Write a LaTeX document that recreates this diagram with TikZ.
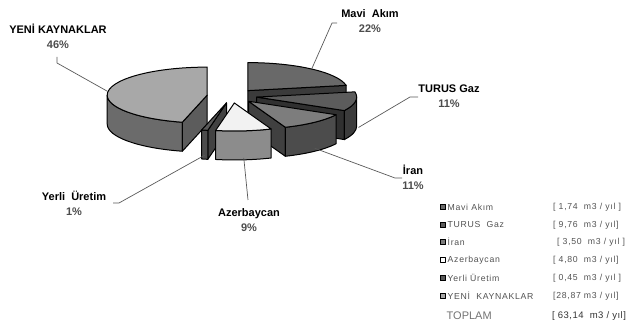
\documentclass[tikz,border=0pt]{standalone}
\usepackage{fontspec}
\setmainfont{Liberation Sans}
\definecolor{maviTop}{gray}{0.41}
\definecolor{maviCut}{gray}{0.23}
\definecolor{yeniTop}{gray}{0.66}
\definecolor{yeniSide}{gray}{0.42}
\definecolor{yeniCut}{gray}{0.36}
\definecolor{turusTop}{gray}{0.36}
\definecolor{turusSide}{gray}{0.23}
\definecolor{turusCut}{gray}{0.19}
\definecolor{iranTop}{gray}{0.49}
\definecolor{iranSide}{gray}{0.30}
\definecolor{iranCut}{gray}{0.25}
\definecolor{azerTop}{gray}{0.95}
\definecolor{azerSide}{gray}{0.55}
\definecolor{yerliTop}{gray}{0.35}
\definecolor{yerliSide}{gray}{0.30}
\definecolor{yerliCut}{gray}{0.26}
\newcommand\topface[3]{\filldraw[face, fill=#3] (0,0) -- (#1:100 and 28) arc[start angle=#1, end angle=#2, x radius=100, y radius=28] -- cycle;}
\newcommand\cutface[2]{\filldraw[face, fill=#2] (0,0) -- (#1:100 and 28) -- ++(0,-29) -- (0,-29) -- cycle;}
\newcommand\outerface[3]{\filldraw[face, fill=#3] (#1:100 and 28) arc[start angle=#1, end angle=#2, x radius=100, y radius=28] -- ++(0,-29) arc[start angle=#2, end angle=#1, x radius=100, y radius=28] -- cycle;}
\begin{document}
\begin{tikzpicture}[x=1pt,y=1pt, line join=round,
  face/.style={draw=black, line width=1pt},
  lbl/.style={font=\fontsize{11}{15}\selectfont\bfseries, align=center, inner sep=0pt},
  leader/.style={draw=black!65, line width=0.7pt},
  leg/.style={font=\fontsize{8.7}{10}\selectfont\addfontfeature{LetterSpace=8}, text=black!68, anchor=west, inner sep=0pt},
  legbox/.style={draw=black, line width=0.8pt, minimum size=5.5pt, inner sep=0pt}
]
\useasboundingbox (0,0) rectangle (637,326);
% Mavi Akim
\begin{scope}[shift={({232+25*cos(50.4)},{230+7*sin(50.4)})}]
  \cutface{10.8}{maviCut}
  \topface{10.8}{90}{maviTop}
  \coordinate (maviP) at (50.4:100 and 28);
\end{scope}
% YENI KAYNAKLAR
\begin{scope}[shift={({232+25*cos(172.8)},{230+7*sin(172.8)})}]
  \outerface{180}{255.6}{yeniSide}
  \cutface{255.6}{yeniCut}
  \topface{90}{255.6}{yeniTop}
  \coordinate (yeniP) at (172.8:100 and 28);
\end{scope}
% TURUS Gaz
\begin{scope}[shift={({232+25*cos(-9)},{230+7*sin(-9)})}]
  \cutface{-28.8}{turusCut}
  \outerface{-28.8}{0}{turusSide}
  \topface{-28.8}{10.8}{turusTop}
  \coordinate (turusP) at ({100*cos(-9)+3},{28*sin(-9)-26});
\end{scope}
% Iran
\begin{scope}[shift={({232+25*cos(-48.6)},{230+7*sin(-48.6)})}]
  \cutface{-68.4}{iranCut}
  \outerface{-68.4}{-28.8}{iranSide}
  \topface{-68.4}{-28.8}{iranTop}
  \coordinate (iranP) at ({100*cos(-48.6)},{28*sin(-48.6)-26});
\end{scope}
% Yerli Uretim
\begin{scope}[shift={({232+25*cos(-102.6)},{230+7*sin(-102.6)})}]
  \cutface{-100.8}{yerliCut}
  \outerface{-104.4}{-100.8}{yerliSide}
  \topface{-104.4}{-100.8}{yerliTop}
  \coordinate (yerliP) at ({100*cos(-102.6)},{28*sin(-102.6)-25});
\end{scope}
% Azerbaycan
\begin{scope}[shift={({232+25*cos(-84.6)},{230+7*sin(-84.6)})}]
  \outerface{-100.8}{-68.4}{azerSide}
  \topface{-100.8}{-68.4}{azerTop}
  \coordinate (azerP) at ({100*cos(-84.6)},{28*sin(-84.6)-27});
\end{scope}
% labels
\node[lbl] (maviL) at (370,304.5) {Mavi\ \ Akım\\\textcolor{black!70}{22\%}};
\node[lbl] (turusL) at (449,229.5) {TURUS\ Gaz\\\textcolor{black!70}{11\%}};
\node[lbl] (iranL) at (413,149) {İran\\\textcolor{black!70}{11\%}};
\node[lbl] (azerL) at (249,106) {Azerbaycan\\\textcolor{black!70}{9\%}};
\node[lbl] (yerliL) at (74,122.5) {Yerli\ \ Üretim\\\textcolor{black!70}{1\%}};
\node[lbl] (yeniL) at (58,289.5) {YENİ KAYNAKLAR\\\textcolor{black!70}{46\%}};
% leader lines
\coordinate (maviK) at (332,303); \coordinate (maviE) at (337,303);
\coordinate (turusK) at (410,229); \coordinate (turusE) at (418,229);
\coordinate (iranK) at (395,148); \coordinate (iranE) at (402,148);
\coordinate (azerE) at (248,126);
\coordinate (yerliK) at (119,123); \coordinate (yerliE) at (113,123);
\coordinate (yeniK) at (57,263); \coordinate (yeniE) at (57,269);
\draw[leader] (maviP) -- (maviK) -- (maviE);
\draw[leader] (turusP) -- (turusK) -- (turusE);
\draw[leader] (iranP) -- (iranK) -- (iranE);
\draw[leader] (azerP) -- (azerE);
\draw[leader] (yerliP) -- (yerliK) -- (yerliE);
\draw[leader] (yeniP) -- (yeniK) -- (yeniE);
% legend
\node[legbox, fill=maviTop] (b1) at (443,119) {};
\node[legbox, fill=turusTop] (b2) at (443,101) {};
\node[legbox, fill=iranTop] (b3) at (443,84) {};
\node[legbox, fill=white] (b4) at (443,66) {};
\node[legbox, fill=yerliTop] (b5) at (443,48) {};
\node[legbox, fill=yeniTop] (b6) at (443,30) {};
\node[leg] (t1) at (447.5,119) {Mavi Akım};
\node[leg] (t2) at (447.5,101) {TURUS\ \ Gaz};
\node[leg] (t3) at (447.5,84) {İran};
\node[leg] (t4) at (447.5,66) {Azerbaycan};
\node[leg] (t5) at (447.5,48) {Yerli Üretim};
\node[leg] (t6) at (447.5,30) {YENİ\ \ KAYNAKLAR};
\node[leg] (v1) at (553,119) {[ 1,74\ \ m3 / yıl ]};
\node[leg] (v2) at (553,101) {[ 9,76\ \ m3 / yıl]};
\node[leg] (v3) at (557,84) {[ 3,50\ \ m3 / yıl ]};
\node[leg] (v4) at (553,66) {[ 4,80\ \ m3 / yıl]};
\node[leg] (v5) at (553,48) {[ 0,45\ \ m3 / yıl ]};
\node[leg] (v6) at (553,30) {[28,87 m3 / yıl]};
\node[anchor=west, inner sep=0pt, text=black!55, font=\fontsize{11}{13}\selectfont] (tot) at (446.5,10) {TOPLAM};
\node[anchor=west, inner sep=0pt, text=black!80, font=\fontsize{9.5}{11}\selectfont\addfontfeature{LetterSpace=5}] (totv) at (552,9.5) {[ 63,14\ \ m3 / yıl]};
\end{tikzpicture}
\end{document}
